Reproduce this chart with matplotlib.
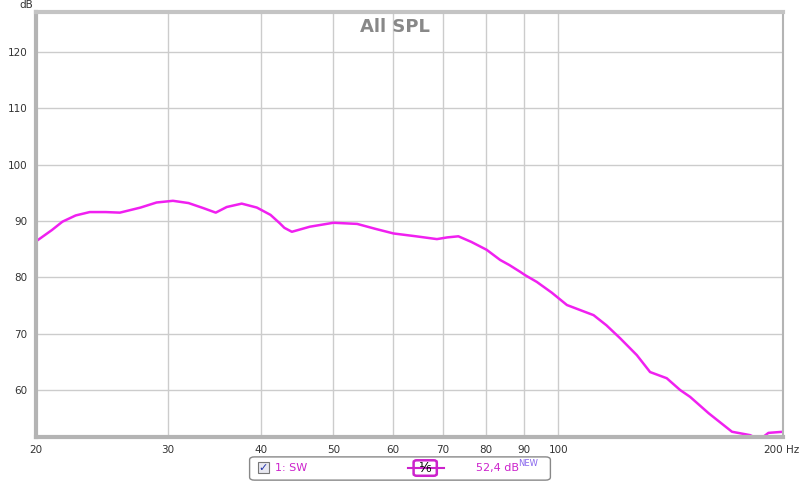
import numpy as np
import matplotlib.pyplot as plt
from matplotlib.patches import FancyBboxPatch, Rectangle

# ----------- data -----------
freq = [20, 21, 21.7, 22.6, 23.6, 24.8, 25.9, 27.6, 29, 30.5, 32, 33.5, 34.8, 36,
        37.7, 39.5, 41.2, 42.4, 43, 44, 46.5, 50, 53.8, 57, 60.2, 64.5, 68.8, 71,
        73.5, 76.5, 80.2, 83.6, 86, 88.9, 90.3, 93.6, 98, 102.7, 107, 111.5,
        116, 121, 127.4, 132.7, 139.7, 145.6, 150.1, 158.9, 170.8, 180.6, 186,
        191.1, 200]
spl = [86.4, 88.4, 89.9, 91.0, 91.6, 91.6, 91.5, 92.4, 93.3, 93.6, 93.2, 92.3, 91.5,
       92.5, 93.1, 92.4, 91.1, 89.6, 88.8, 88.1, 89.0, 89.7, 89.5, 88.6, 87.8, 87.3,
       86.8, 87.1, 87.3, 86.3, 84.9, 83.1, 82.2, 81.0, 80.4, 79.2, 77.3, 75.1,
       74.2, 73.3, 71.5, 69.2, 66.2, 63.2, 62.1, 60.0, 58.8, 55.9, 52.6, 52.0,
       51.2, 52.4, 52.6]

xticks = [20, 30, 40, 50, 60, 70, 80, 90, 100, 200]
xlabels = ['20', '30', '40', '50', '60', '70', '80', '90', '100', '200']
yticks = [60, 70, 80, 90, 100, 110, 120]

fig = plt.figure(figsize=(8, 4.84), dpi=100)
ax = fig.add_axes([0.045, 0.097, 0.934, 0.878])

ax.plot(freq, spl, color='#f020f0', lw=1.8, solid_joinstyle='round')

ax.set_xscale('log')
ax.set_xlim(20, 200)
ax.set_ylim(51.66, 127.1)
ax.set_xticks(xticks)
ax.set_xticklabels(xlabels)
ax.xaxis.set_minor_locator(plt.NullLocator())
ax.set_yticks(yticks)
ax.grid(True, color='#cccccc', lw=1)
ax.tick_params(length=0, labelsize=7.5, colors='#333333', pad=6)
ax.get_xticklabels()[-1].set_horizontalalignment('right')

for side in ['left', 'bottom', 'top']:
    ax.spines[side].set_color('#b4b4b4')
    ax.spines[side].set_linewidth(3)
ax.spines['top'].set_color('#c4c4c4')
ax.spines['right'].set_color('#b4b4b4')
ax.spines['right'].set_linewidth(1.5)

ax.text(0.48, 0.985, 'All SPL', transform=ax.transAxes, ha='center', va='top',
        fontsize=13, fontweight='bold', color='#888888')
fig.text(0.041, 0.99, 'dB', ha='right', va='center', fontsize=7.5, color='#333333')
fig.text(0.983, 0.071, 'Hz', ha='left', va='center', fontsize=7.5, color='#333333')

# legend strip at the bottom
box = FancyBboxPatch((0.312, 0.008), 0.376, 0.048, boxstyle='round,pad=0,rounding_size=0.006',
                     transform=fig.transFigure, fc='white', ec='#888888', lw=1)
fig.patches.append(box)
fig.patches.append(Rectangle((0.322, 0.022), 0.014, 0.023, transform=fig.transFigure,
                             fc='#e8e8f0', ec='#777777', lw=0.8))
fig.text(0.329, 0.034, '✓', ha='center', va='center', fontsize=8, color='#2233aa',
         fontweight='bold')
fig.text(0.344, 0.033, '1: SW', ha='left', va='center', fontsize=8, color='#cc22cc')
fig.lines.append(plt.Line2D([0.51, 0.555], [0.033, 0.033], transform=fig.transFigure,
                            color='#cc22cc', lw=1.5))
fig.patches.append(FancyBboxPatch((0.517, 0.017), 0.029, 0.032,
                                  boxstyle='round,pad=0,rounding_size=0.004',
                                  transform=fig.transFigure, fc='white', ec='#cc22cc', lw=1.8))
fig.text(0.5315, 0.033, '¹⁄₆', ha='center', va='center', fontsize=10, color='black')
fig.text(0.595, 0.033, '52,4 dB', ha='left', va='center', fontsize=8, color='#cc22cc')
fig.text(0.648, 0.042, 'NEW', ha='left', va='center', fontsize=6, color='#8866ee')

fig.savefig('out.png', dpi=100, facecolor='white')
